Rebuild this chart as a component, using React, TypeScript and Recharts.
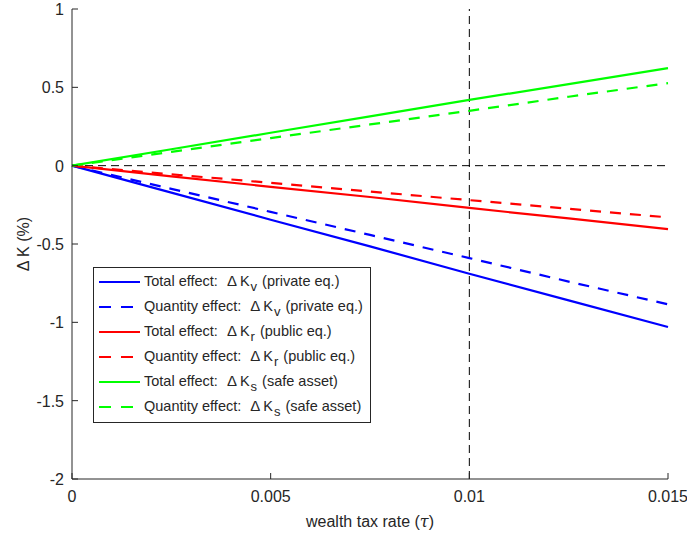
import { LineChart, Line, XAxis, YAxis, ReferenceLine, Legend } from "recharts";

const taxRate = [0, 0.0025, 0.005, 0.0075, 0.01, 0.0125, 0.015];
const totalPrivate = [0, -0.172, -0.345, -0.515, -0.69, -0.86, -1.03];
const quantityPrivate = [0, -0.148, -0.295, -0.442, -0.59, -0.74, -0.885];
const totalPublic = [0, -0.068, -0.135, -0.2, -0.27, -0.337, -0.405];
const quantityPublic = [0, -0.055, -0.11, -0.165, -0.22, -0.275, -0.33];
const totalSafe = [0, 0.105, 0.21, 0.315, 0.42, 0.52, 0.623];
const quantitySafe = [0, 0.088, 0.176, 0.263, 0.35, 0.44, 0.527];

const xTicks = [0, 0.005, 0.01, 0.015];
const yTicks = [-2, -1.5, -1, -0.5, 0, 0.5, 1];

const series = [
  { key: "tv", name: "Total effect:", sub: "v", tail: "(private eq.)", color: "#0000ff", dash: undefined },
  { key: "qv", name: "Quantity effect:", sub: "v", tail: "(private eq.)", color: "#0000ff", dash: "11 9" },
  { key: "tr", name: "Total effect:", sub: "r", tail: "(public eq.)", color: "#ff0000", dash: undefined },
  { key: "qr", name: "Quantity effect:", sub: "r", tail: "(public eq.)", color: "#ff0000", dash: "11 9" },
  { key: "ts", name: "Total effect:", sub: "s", tail: "(safe asset)", color: "#00ff00", dash: undefined },
  { key: "qs", name: "Quantity effect:", sub: "s", tail: "(safe asset)", color: "#00ff00", dash: "11 9" },
];

const data = taxRate.map((t, i) => ({
  t,
  tv: totalPrivate[i],
  qv: quantityPrivate[i],
  tr: totalPublic[i],
  qr: quantityPublic[i],
  ts: totalSafe[i],
  qs: quantitySafe[i],
}));

const FONT = "'Liberation Sans', Arial, Helvetica, sans-serif";
const INK = "#262626";

const BottomTick = (p: any) => (
  <g>
    <line x1={p.x} x2={p.x} y1={p.y} y2={p.y - 6} stroke={INK} />
    <text x={p.x} y={p.y + 23} textAnchor="middle" fontSize={16} fill={INK} fontFamily={FONT}>
      {p.payload.value}
    </text>
  </g>
);
const LeftTick = (p: any) => (
  <g>
    <line x1={p.x} x2={p.x + 6} y1={p.y} y2={p.y} stroke={INK} />
    <text x={p.x - 8} y={p.y + 6} textAnchor="end" fontSize={16} fill={INK} fontFamily={FONT}>
      {p.payload.value}
    </text>
  </g>
);
const TopTick = (p: any) => <line x1={p.x} x2={p.x} y1={p.y} y2={p.y + 6} stroke={INK} />;
const RightTick = (p: any) => <line x1={p.x} x2={p.x - 6} y1={p.y} y2={p.y} stroke={INK} />;

const LegendBox = () => (
  <div
    style={{
      border: "1px solid #262626",
      background: "#fff",
      padding: "1px 0 3px 0",
      fontFamily: FONT,
      fontSize: 14.5,
      color: INK,
      width: 276,
      boxSizing: "content-box",
    }}
  >
    {series.map((s) => (
      <div key={s.key} style={{ display: "flex", alignItems: "center", height: 25, whiteSpace: "pre" }}>
        <svg width={50} height={10} style={{ flex: "none" }}>
          <line x1={5} x2={46} y1={5} y2={5} stroke={s.color} strokeWidth={2} strokeDasharray={s.dash ? "12 10" : undefined} />
        </svg>
        <span style={{ lineHeight: "16px" }}>
          {s.name}
          <span style={{ marginLeft: 9, fontSize: 15 }}>Δ</span>
          <span style={{ marginLeft: 3 }}>K</span>
          <span style={{ fontSize: 13, position: "relative", top: 5, marginLeft: 1 }}>{s.sub}</span>
          <span style={{ marginLeft: 5 }}>{s.tail}</span>
        </span>
      </div>
    ))}
  </div>
);

export default function App() {
  return (
    <div style={{ width: 687, height: 534, background: "#fff", position: "relative" }}>
      <style>{"body{margin:0}"}</style>
      <LineChart width={687} height={534} data={data} margin={{ top: 9, right: 19, bottom: 0, left: 0 }}>
        <XAxis
          dataKey="t"
          type="number"
          domain={[0, 0.015]}
          ticks={xTicks}
          tickSize={0}
          tickMargin={0}
          tick={BottomTick}
          height={55}
          stroke={INK}
          label={{
            content: (props: any) => {
              const vb = props.viewBox;
              return (
                <text x={vb.x + vb.width / 2} y={vb.y + 48} textAnchor="middle" fontSize={16} fill={INK} fontFamily={FONT}>
                  wealth tax rate (<tspan fontStyle="italic" fontFamily="'DejaVu Serif', serif">τ</tspan>)
                </text>
              );
            },
          }}
        />
        <XAxis
          xAxisId="top"
          orientation="top"
          dataKey="t"
          type="number"
          domain={[0, 0.015]}
          ticks={xTicks}
          tickSize={0}
          tickMargin={0}
          tick={TopTick}
          height={0}
          stroke={INK}
        />
        <YAxis
          type="number"
          domain={[-2, 1]}
          ticks={yTicks}
          tickSize={0}
          tickMargin={0}
          tick={LeftTick}
          width={72}
          stroke={INK}
          label={{
            content: (props: any) => {
              const vb = props.viewBox;
              const cx = vb.x + 25;
              const cy = vb.y + vb.height / 2;
              return (
                <text x={cx} y={cy} transform={`rotate(-90 ${cx} ${cy})`} textAnchor="middle" dominantBaseline="middle" fontSize={16} fill={INK} fontFamily={FONT}>
                  Δ K (%)
                </text>
              );
            },
          }}
        />
        <YAxis
          yAxisId="right"
          orientation="right"
          type="number"
          domain={[-2, 1]}
          ticks={yTicks}
          tickSize={0}
          tickMargin={0}
          tick={RightTick}
          width={0}
          stroke={INK}
        />
        <ReferenceLine y={0} stroke="#000" strokeDasharray="8 5" />
        <ReferenceLine x={0.01} stroke="#000" strokeDasharray="8 5" />
        {series.map((s) => (
          <Line
            key={s.key}
            dataKey={s.key}
            type="linear"
            stroke={s.color}
            strokeWidth={2.2}
            strokeDasharray={s.dash}
            dot={false}
            isAnimationActive={false}
          />
        ))}
        <Legend
          layout="vertical"
          align="center"
          verticalAlign="middle"
          content={LegendBox}
          wrapperStyle={{ position: "absolute", left: 93, top: 267, width: 278 }}
        />
      </LineChart>
    </div>
  );
}
